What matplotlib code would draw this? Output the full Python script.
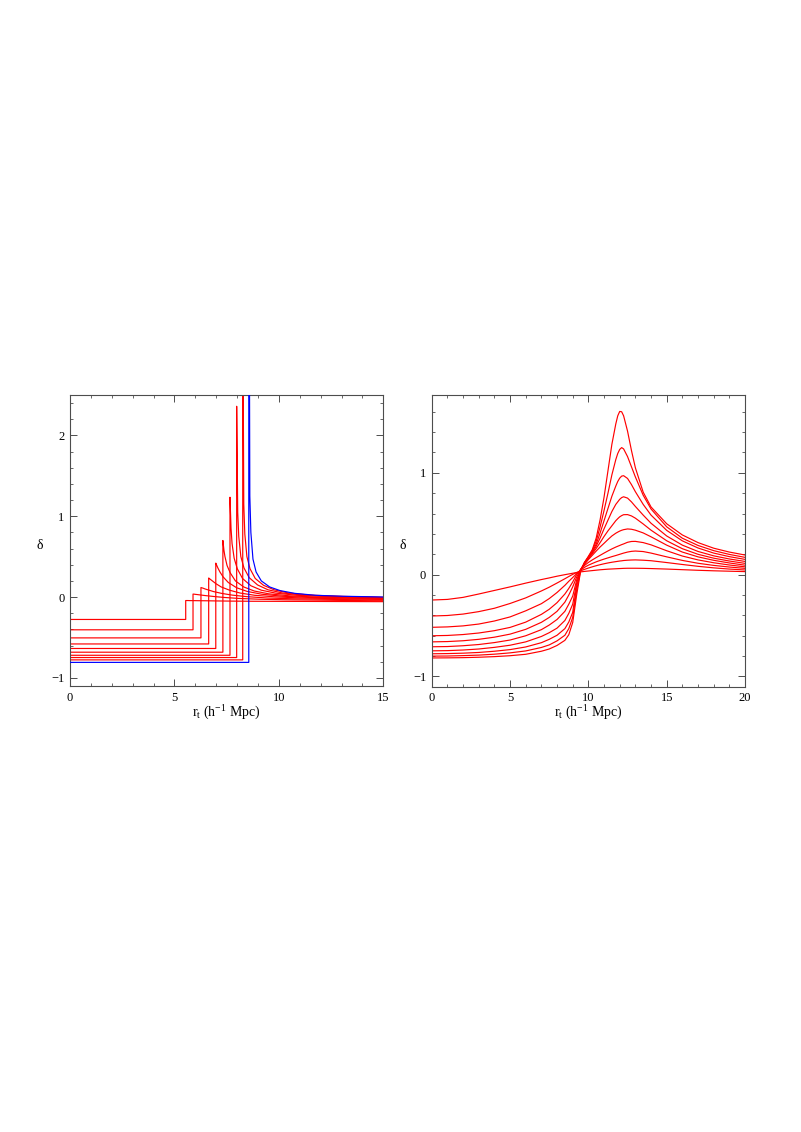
import matplotlib
matplotlib.use("Agg")
import matplotlib.pyplot as plt
from matplotlib.ticker import MultipleLocator

plt.rcParams['font.family'] = ['Liberation Serif', 'DejaVu Serif']
plt.rcParams['mathtext.fontset'] = 'custom'
plt.rcParams['mathtext.rm'] = 'Liberation Serif'
plt.rcParams['mathtext.it'] = 'Liberation Serif:italic'

# ---------------- Left panel: top-hat profiles ----------------
left_R = [5.54, 5.89, 6.27, 6.64, 6.98, 7.32, 7.66, 7.98, 8.27, 8.56]
left_inner = [-0.277, -0.405, -0.505, -0.58, -0.636, -0.682, -0.72, -0.748, -0.777, -0.808]
left_peak = [-0.043, 0.037, 0.118, 0.236, 0.42, 0.70, 1.235, 2.36, 4.0, 6.0]
left_tail_du = [0.05, 0.1, 0.2, 0.35, 0.6, 1.0, 1.5, 2.2, 3.2, 4.5]
left_tail = [
    [-0.043, -0.043, -0.044, -0.044, -0.045, -0.046, -0.048, -0.050, -0.052, -0.053],
    [0.036, 0.034, 0.031, 0.026, 0.018, 0.007, -0.005, -0.017, -0.027, -0.034],
    [0.114, 0.110, 0.100, 0.088, 0.068, 0.045, 0.024, 0.005, -0.012, -0.022],
    [0.225, 0.215, 0.195, 0.165, 0.125, 0.085, 0.050, 0.022, 0.002, -0.012],
    [0.39, 0.36, 0.31, 0.25, 0.18, 0.115, 0.070, 0.035, 0.010, -0.005],
    [0.58, 0.50, 0.39, 0.30, 0.20, 0.125, 0.075, 0.040, 0.015, 0.000],
    [0.85, 0.66, 0.48, 0.35, 0.23, 0.14, 0.085, 0.048, 0.022, 0.008],
    [1.05, 0.75, 0.50, 0.36, 0.24, 0.15, 0.090, 0.050, 0.024, 0.010],
    [1.15, 0.78, 0.50, 0.35, 0.23, 0.145, 0.090, 0.050, 0.025, 0.010],
    [1.25, 0.80, 0.47, 0.31, 0.20, 0.125, 0.080, 0.046, 0.022, 0.010],
]
left_far = [-0.057, -0.047, -0.038, -0.030, -0.023, -0.017, -0.012, -0.007, -0.003, 0.001]
left_colors = ['red'] * 9 + ['blue']

# ---------------- Right panel: smooth profiles ----------------
right_r = [0, 1, 2, 3, 4, 5, 6, 7, 7.5, 8, 8.5, 8.75, 9, 9.25, 9.5, 9.75, 10, 10.25, 10.5,
           10.75, 11, 11.25, 11.5, 11.75, 11.875, 12, 12.125, 12.25, 12.5, 12.75, 13, 13.5,
           14, 15, 16, 17, 18, 19, 20]
right_profiles = [
    [-0.249, -0.243, -0.223, -0.19, -0.155, -0.12, -0.083, -0.048, -0.032, -0.015, 0.0, 0.007,
     0.014, 0.021, 0.027, 0.032, 0.036, 0.040, 0.044, 0.048, 0.051, 0.054, 0.056, 0.058,
     0.059, 0.060, 0.061, 0.062, 0.063, 0.063, 0.063, 0.062, 0.060, 0.055, 0.049, 0.043,
     0.038, 0.034, 0.030],
    [-0.406, -0.401, -0.387, -0.363, -0.33, -0.283, -0.228, -0.16, -0.123, -0.082, -0.04, -0.018,
     0.003, 0.021, 0.037, 0.052, 0.065, 0.077, 0.088, 0.098, 0.107, 0.115, 0.122, 0.128,
     0.131, 0.134, 0.136, 0.139, 0.142, 0.144, 0.145, 0.142, 0.137, 0.119, 0.100, 0.082,
     0.067, 0.055, 0.046],
    [-0.517, -0.513, -0.503, -0.485, -0.455, -0.415, -0.355, -0.285, -0.235, -0.175, -0.105, -0.065,
     -0.028, 0.010, 0.044, 0.072, 0.093, 0.110, 0.126, 0.140, 0.153, 0.165, 0.177, 0.188,
     0.194, 0.200, 0.206, 0.212, 0.222, 0.229, 0.232, 0.227, 0.212, 0.175, 0.140, 0.112,
     0.091, 0.075, 0.062],
    [-0.600, -0.597, -0.588, -0.573, -0.55, -0.518, -0.466, -0.39, -0.34, -0.275, -0.19, -0.135,
     -0.072, 0.0, 0.048, 0.09, 0.12, 0.145, 0.168, 0.19, 0.212, 0.233, 0.253, 0.271,
     0.279, 0.287, 0.295, 0.302, 0.318, 0.326, 0.327, 0.315, 0.293, 0.235, 0.183, 0.145,
     0.117, 0.095, 0.077],
    [-0.660, -0.657, -0.649, -0.635, -0.614, -0.584, -0.537, -0.468, -0.42, -0.36, -0.27, -0.20,
     -0.12, -0.025, 0.05, 0.102, 0.148, 0.19, 0.232, 0.272, 0.308, 0.345, 0.38, 0.407,
     0.418, 0.428, 0.436, 0.442, 0.449, 0.446, 0.437, 0.41, 0.372, 0.29, 0.222, 0.175,
     0.141, 0.115, 0.093],
    [-0.708, -0.706, -0.698, -0.686, -0.667, -0.642, -0.60, -0.54, -0.495, -0.44, -0.36, -0.29,
     -0.21, -0.055, 0.05, 0.108, 0.158, 0.205, 0.258, 0.315, 0.375, 0.43, 0.48, 0.53,
     0.55, 0.568, 0.58, 0.589, 0.59, 0.577, 0.555, 0.498, 0.437, 0.333, 0.255, 0.200,
     0.162, 0.134, 0.111],
    [-0.748, -0.746, -0.740, -0.73, -0.714, -0.693, -0.66, -0.607, -0.57, -0.525, -0.45, -0.38,
     -0.29, -0.085, 0.045, 0.113, 0.165, 0.215, 0.28, 0.36, 0.45, 0.535, 0.62, 0.69,
     0.715, 0.74, 0.757, 0.765, 0.752, 0.715, 0.67, 0.585, 0.505, 0.38, 0.29, 0.228,
     0.185, 0.154, 0.130],
    [-0.777, -0.775, -0.771, -0.764, -0.752, -0.736, -0.71, -0.668, -0.635, -0.595, -0.53, -0.465,
     -0.37, -0.115, 0.04, 0.118, 0.17, 0.225, 0.30, 0.41, 0.53, 0.65, 0.77, 0.87,
     0.915, 0.948, 0.968, 0.972, 0.945, 0.885, 0.815, 0.69, 0.585, 0.435, 0.332, 0.262,
     0.212, 0.177, 0.150],
    [-0.800, -0.799, -0.795, -0.79, -0.781, -0.768, -0.749, -0.715, -0.69, -0.65, -0.595, -0.53,
     -0.42, -0.155, 0.035, 0.118, 0.175, 0.235, 0.33, 0.47, 0.63, 0.80, 0.98, 1.13,
     1.19, 1.23, 1.248, 1.235, 1.16, 1.06, 0.96, 0.78, 0.645, 0.47, 0.358, 0.287,
     0.236, 0.199, 0.170],
    [-0.818, -0.817, -0.815, -0.811, -0.805, -0.796, -0.782, -0.752, -0.73, -0.695, -0.645, -0.59,
     -0.47, -0.20, 0.03, 0.12, 0.18, 0.245, 0.36, 0.54, 0.76, 1.02, 1.28, 1.48,
     1.56, 1.603, 1.60, 1.56, 1.41, 1.22, 1.05, 0.81, 0.665, 0.50, 0.39, 0.315,
     0.26, 0.222, 0.193],
]

xlabel = r"r$_{\rm t}$ (h$^{-1}$ Mpc)"
ylabel = "δ"

fig = plt.figure(figsize=(8.01, 11.32), dpi=100)
axL = fig.add_axes([0.0874, 0.3940, 0.3911, 0.2571])
axR = fig.add_axes([0.5390, 0.3934, 0.3911, 0.2577])


def style(ax, ylab_x):
    for s in ax.spines.values():
        s.set_linewidth(0.8)
        s.set_color('0.3')
    ax.tick_params(which='both', direction='in', top=True, right=True,
                   color='0.3', labelsize=9, pad=4)
    ax.tick_params(which='major', length=5, width=0.7)
    ax.tick_params(which='minor', length=2.5, width=0.6)
    ax.xaxis.set_minor_locator(MultipleLocator(1))
    ax.yaxis.set_minor_locator(MultipleLocator(0.2))
    ax.xaxis.set_major_locator(MultipleLocator(5))
    ax.yaxis.set_major_locator(MultipleLocator(1))
    ax.set_xlabel(xlabel, fontsize=10, labelpad=0)
    ax.set_ylabel(ylabel, fontsize=10, rotation=0, va='center', ha='center')
    ax.yaxis.set_label_coords(ylab_x, 0.484)


# left
for k in range(len(left_R)):
    R = left_R[k]
    r = [0, R, R] + [R + du for du in left_tail_du] + [15]
    d = [left_inner[k], left_inner[k], left_peak[k]] + left_tail[k] + [left_far[k]]
    axL.plot(r, d, color=left_colors[k], lw=0.85,
             zorder=3 if left_colors[k] == 'blue' else 2)
axL.set_xlim(0, 15)
axL.set_ylim(-1.1, 2.5)
style(axL, -0.096)

# right
for prof in right_profiles:
    axR.plot(right_r, prof, color='red', lw=0.85)
axR.set_xlim(0, 20)
axR.set_ylim(-1.1, 1.765)
style(axR, -0.092)

fig.savefig("out.png", dpi=100)
